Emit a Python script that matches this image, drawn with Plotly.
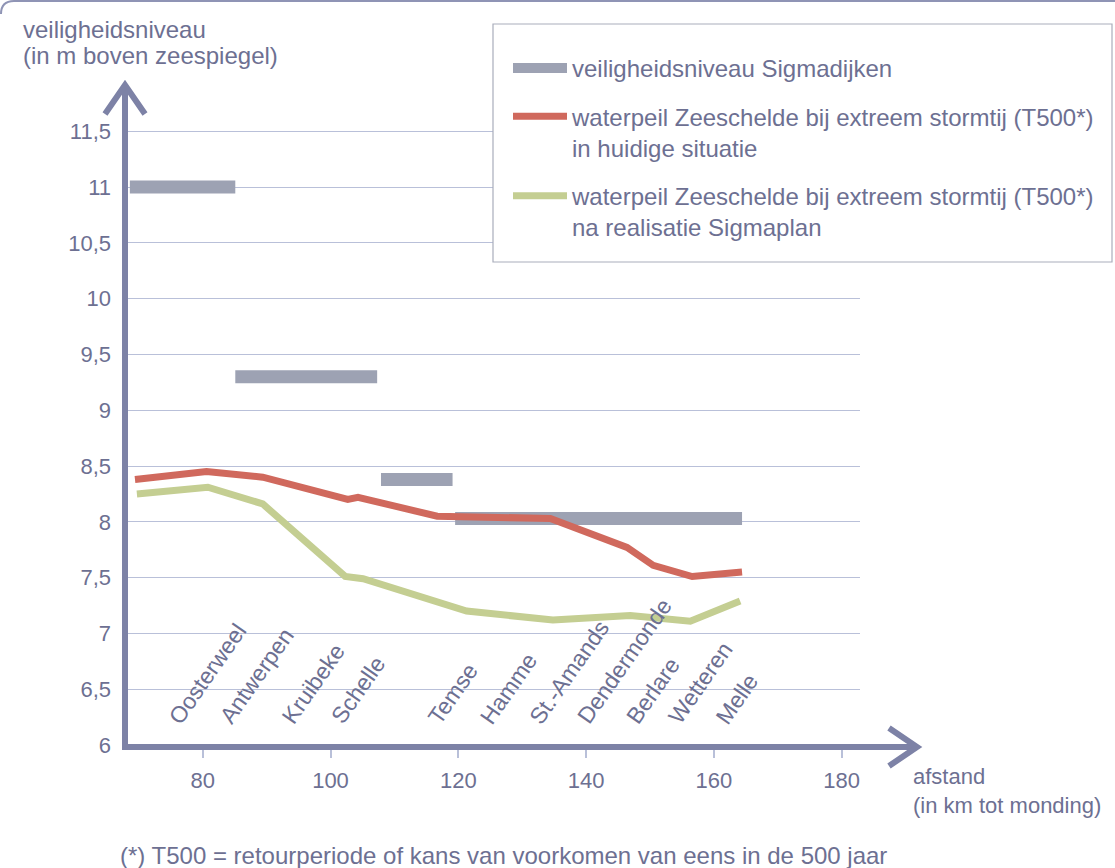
import plotly.graph_objects as go

# ---------------- data ----------------
# safety level of the Sigma dikes: horizontal segments (km from mouth, m above sea level)
dike_start_km = [68.6, 85.1, 107.9, 119.5]
dike_end_km = [85.1, 107.3, 119.1, 164.4]
dike_level_m = [11.0, 9.3, 8.38, 8.03]

# water level Zeeschelde at extreme storm tide (T500), current situation
red_km = [69.4, 80.6, 89.4, 102.7, 104.3, 116.7, 134.4, 146.4, 150.5, 156.6, 164.4]
red_m = [8.38, 8.45, 8.40, 8.20, 8.22, 8.05, 8.03, 7.77, 7.61, 7.51, 7.55]

# water level after realisation of the Sigma plan
green_km = [69.7, 80.8, 89.4, 102.3, 105.1, 121.3, 134.8, 146.9, 156.3, 164.1]
green_m = [8.25, 8.31, 8.16, 7.51, 7.49, 7.20, 7.12, 7.16, 7.11, 7.29]

# towns along the river (km)
towns = ["Oosterweel", "Antwerpen", "Kruibeke", "Schelle", "Temse", "Hamme",
         "St.-Amands", "Dendermonde", "Berlare", "Wetteren", "Melle"]
town_km = [73.6, 81.6, 91.3, 99.1, 114.3, 122.4, 130.1, 137.6, 145.2, 151.8, 159.2]

x_tickvals = [80, 100, 120, 140, 160, 180]
x_ticktext = ["80", "100", "120", "140", "160", "180"]
y_tickvals = [6, 6.5, 7, 7.5, 8, 8.5, 9, 9.5, 10, 10.5, 11, 11.5]
y_ticktext = ["6", "6,5", "7", "7,5", "8", "8,5", "9", "9,5", "10", "10,5", "11", "11,5"]

# ---------------- layout helpers ----------------
W, H = 1115, 868
ML, MR, MT, MB = 125, 255, 82, 123
PW, PH = W - ML - MR, H - MT - MB


def px_x(px):
    return (px - ML) / PW


def px_y(py):
    return (H - MB - py) / PH


TXT = "#6d7092"
AXIS = "#7d82a6"
GRID = "#b9c0d9"
FONT = "Liberation Sans, Arial, sans-serif"

# build dike segments as one trace separated by gaps
dike_x, dike_y = [], []
for s, e, lv in zip(dike_start_km, dike_end_km, dike_level_m):
    dike_x += [s, e, None]
    dike_y += [lv, lv, None]

fig = go.Figure()
fig.add_trace(go.Scatter(
    x=dike_x, y=dike_y, mode="lines", name="veiligheidsniveau Sigmadijken",
    line=dict(color="#9da2b3", width=13), legendgroup="a", hoverinfo="skip"))
fig.add_trace(go.Scatter(
    x=red_km, y=red_m, mode="lines",
    name="waterpeil Zeeschelde bij extreem stormtij (T500*)<br>in huidige situatie",
    line=dict(color="#d0695d", width=7), legendgroup="b"))
fig.add_trace(go.Scatter(
    x=green_km, y=green_m, mode="lines",
    name="waterpeil Zeeschelde bij extreem stormtij (T500*)<br>na realisatie Sigmaplan",
    line=dict(color="#c4ce92", width=7), legendgroup="c"))

shapes = []
# legend frame
shapes.append(dict(type="rect", xref="paper", yref="paper",
                   x0=px_x(493), x1=px_x(1112), y0=px_y(262), y1=px_y(24),
                   fillcolor="white", line=dict(color="#a9adbb", width=1.2), layer="above"))
# y axis with arrow
shapes.append(dict(type="line", xref="paper", yref="paper",
                   x0=0, x1=0, y0=px_y(750), y1=px_y(86),
                   line=dict(color=AXIS, width=6), layer="above"))
shapes.append(dict(type="path", xref="paper", yref="paper",
                   path="M {} {} L {} {} L {} {}".format(px_x(105), px_y(114), px_x(125), px_y(85),
                                                         px_x(145), px_y(114)),
                   line=dict(color=AXIS, width=6), layer="above"))
# x axis with arrow
shapes.append(dict(type="line", xref="paper", yref="paper",
                   x0=px_x(122), x1=px_x(915), y0=px_y(747), y1=px_y(747),
                   line=dict(color=AXIS, width=6), layer="above"))
shapes.append(dict(type="path", xref="paper", yref="paper",
                   path="M {} {} L {} {} L {} {}".format(px_x(889), px_y(728), px_x(917), px_y(747),
                                                         px_x(889), px_y(766)),
                   line=dict(color=AXIS, width=6), layer="above"))
# page frame line at top
shapes.append(dict(type="path", xref="paper", yref="paper",
                   path="M {} {} Q {} {} {} {} L {} {}".format(px_x(1), px_y(14), px_x(1), px_y(1),
                                                               px_x(14), px_y(1), px_x(1115), px_y(1)),
                   line=dict(color="#8f94b5", width=2), layer="above"))


def label(text, x, y_center, size=24):
    return dict(xref="paper", yref="paper", x=px_x(x), y=px_y(y_center),
                xanchor="left", yanchor="middle", align="left", showarrow=False,
                text=text, font=dict(size=size, color=TXT, family=FONT))


annotations = [
    label("veiligheidsniveau", 21, 29),
    label("(in m boven zeespiegel)", 21, 56),
    label("afstand<br>(in km tot monding)", 911, 791, size=22),
    label("(*) T500 = retourperiode of kans van voorkomen van eens in de 500 jaar", 118, 855),
]
for name, km in zip(towns, town_km):
    annotations.append(dict(xref="x", yref="paper", x=km, y=px_y(730),
                            xanchor="left", yanchor="bottom", showarrow=False,
                            text=name, textangle=-55, borderpad=0,
                            font=dict(size=23, color=TXT, family=FONT)))

fig.update_layout(
    width=W, height=H,
    margin=dict(l=ML, r=MR, t=MT, b=MB, pad=0),
    paper_bgcolor="white", plot_bgcolor="white",
    font=dict(family=FONT, size=22, color=TXT),
    separators=", ",
    showlegend=True,
    legend=dict(x=px_x(508), y=px_y(46), xanchor="left", yanchor="top",
                bgcolor="rgba(0,0,0,0)", borderwidth=0,
                font=dict(size=24, color=TXT, family=FONT),
                itemwidth=54, tracegroupgap=14, valign="top", traceorder="grouped"),
    shapes=shapes, annotations=annotations,
    xaxis=dict(range=[67.84, 182.86], tickvals=x_tickvals, ticktext=x_ticktext,
               showgrid=False, zeroline=False, showline=False,
               ticks="outside", ticklen=12, tickwidth=1.5, tickcolor=GRID,
               ticklabelstandoff=4, tickfont=dict(size=22, color=TXT, family=FONT),
               fixedrange=True),
    yaxis=dict(range=[6.0, 11.941], tickvals=y_tickvals, ticktext=y_ticktext,
               showgrid=True, gridcolor=GRID, gridwidth=1, zeroline=False, showline=False,
               ticks="", ticklabelstandoff=13, tickfont=dict(size=22, color=TXT, family=FONT),
               fixedrange=True),
)

fig.write_html("out.html", config={"displayModeBar": False},
               post_script="document.body.style.margin='0px';document.body.style.overflow='hidden';")
